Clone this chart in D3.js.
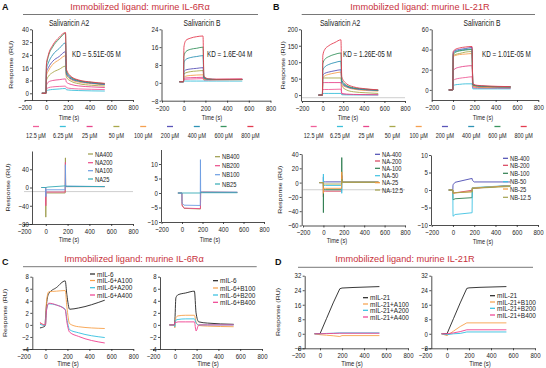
<!DOCTYPE html>
<html>
<head>
<meta charset="utf-8">
<script src="https://cdn.jsdelivr.net/npm/d3@7"></script>
<style>
body { margin: 0; background: #fff; }
svg { font-family: "Liberation Sans", Arial, sans-serif; }
</style>
</head>
<body>
<div id="visualization"></div>
<script>
let w = 546;
let h = 368;

// ---------- data ----------
let xTicks = [-200, 0, 200, 400, 600, 800];
let concLabels = ["12.5 μM", "6.25 μM", "25 μM", "50 μM", "100 μM", "200 μM", "400 μM", "600 μM", "800 μM"];

// kinetics time points (s) for the top row
let timeKin = [-40, -2, 2, 20, 60, 120, 178, 186, 230, 300, 420, 540];
// rows follow concLabels order
let il6A2 = [
  [0, 0, 2.5, 3.5, 4, 4.3, 4.5, 3.5, 3, 2.7, 2.5, 2.3],
  [0, 0, 1.5, 2, 2.4, 2.7, 3, 2.2, 1.9, 1.7, 1.5, 1.4],
  [0, 0, 5, 7, 8, 8.5, 9, 7, 5.5, 4.6, 4, 3.6],
  [0, 0, 8, 10.5, 13, 15, 17, 10, 7.5, 6, 5, 4.5],
  [0, 0, 11, 14, 18, 21, 23.5, 11.5, 8.5, 7, 6, 5.2],
  [0, 0, 13, 16, 20, 23, 26, 12, 9, 7.5, 6.3, 5.5],
  [0, 0, 15, 19, 24, 28, 31.5, 13, 9.5, 7.8, 6.5, 5.7],
  [0, 0, 17, 23, 29, 34, 37.5, 14, 10, 8, 6.8, 6],
  [0, 0, 18, 24, 30, 35, 38, 15, 10.5, 8.3, 7, 6.2]
];
let il6B = [
  [0.5, 0.5, 1.5, 1.6, 1.7, 1.8, 1.9, 1.2, 1.2, 1.3, 1.4, 1.5],
  [0.5, 0.5, 0.8, 0.8, 0.8, 0.8, 0.8, 0.8, 0.8, 0.8, 0.8, 0.8],
  [0.5, 0.5, 2, 2.2, 2.3, 2.4, 2.5, 1.5, 1.5, 1.6, 1.7, 1.8],
  [0.5, 0.5, 4, 4.5, 5, 5.3, 5.5, 1.8, 1.5, 1.5, 1.5, 1.5],
  [0.5, 0.5, 2.5, 3, 3.3, 3.5, 3.6, 1.5, 1.4, 1.4, 1.4, 1.4],
  [0.5, 0.5, 5, 5.8, 6.2, 6.5, 6.8, 2, 1.6, 1.5, 1.5, 1.5],
  [0.5, 0.5, 9, 10.5, 11.3, 11.8, 12.2, 2.2, 1.6, 1.5, 1.5, 1.5],
  [0.5, 0.5, 12, 14, 15, 15.5, 16, 2.5, 1.7, 1.5, 1.5, 1.5],
  [0.5, 0.5, 16, 19, 20, 20.7, 21, 3, 1.8, 1.6, 1.6, 1.6]
];
let il21A2 = [
  [0, 0, 17, 17, 17, 17.5, 18, 3, 2, 1.5, 1, 1],
  [0, 0, 5, 5, 5, 5, 5, 1, 0.5, 0.5, 0.3, 0.3],
  [0, 0, 38, 38, 38, 38, 38, 5, 3, 2, 1.5, 1],
  [0, 0, 52, 52, 52, 52, 52, 28, 16, 10, 7, 5],
  [0, 0, 52, 58, 63, 67, 70, 32, 24, 18, 14, 12],
  [0, 0, 60, 66, 70, 74, 77, 36, 26, 20, 16, 14],
  [0, 0, 75, 85, 93, 99, 103, 40, 28, 21, 17, 14],
  [0, 0, 95, 108, 117, 124, 128, 45, 30, 22, 18, 15],
  [0, 0, 120, 138, 150, 160, 168, 55, 35, 25, 19, 16]
];
let il21B = [
  [0, 0, 9, 10.5, 11.5, 12.3, 13, 2, 1.5, 1.5, 1.5, 1.5],
  [0, 0, 4, 5, 5.5, 6, 6, 1, 1, 1, 1, 1],
  [0, 0, 19, 21, 22.5, 23.5, 24, 3, 2.5, 2.3, 2.2, 2],
  [0, 0, 34, 35, 36, 37.5, 38, 4, 3, 2.8, 2.7, 2.5],
  [0, 0, 33, 34, 35, 35.5, 36, 4, 3, 2.8, 2.7, 2.5],
  [0, 0, 37, 39, 40, 41, 42, 5, 4, 3.5, 3, 3],
  [0, 0, 36, 38, 39, 40, 40.5, 5, 4, 3.5, 3.2, 3],
  [0, 0, 35, 37, 38.5, 39.5, 40, 5, 4, 3.5, 3.2, 3],
  [0, 0, 38, 40, 41.5, 42.5, 43, 6, 4.5, 4, 3.5, 3.2]
];

// middle row: injection spikes at 0 s and 180 s
let timeSpike = [-40, -1, 0, 1, 20, 178, 180, 182, 200, 540];
let naNames = ["NA400", "NA200", "NA100", "NA25"];
let naVals = [
  [0, 0, -65, -12, -12, -12, 65, 2, 2, 2],
  [0, 0, -40, -10, -10, -10, 55, 2, 2, 2],
  [0, 0, -20, -5, -5, -5, 50, 3, 3, 2],
  [0, 0, 0, 0, 1, 3.5, 3, 3, 2.5, 2]
];
let nbNames = ["NB400", "NB200", "NB100", "NB25"];
let nbVals = [
  [0, 0, -3, -4, -5.3, -5.5, -5.5, 0.3, 0.3, 0.2],
  [0, 0, -3, -4.5, -5.2, -5.4, -5.4, 0.3, 0.3, 0.2],
  [0, 0, -3, -3.5, -4.2, -4.3, 11.5, 0.3, 0.3, 0.3],
  [0, 0, 0, 0, 0, 0, 0, 0.1, 0.1, 0.1]
];
let na21Names = ["NA-400", "NA-200", "NA-100", "NA-50", "NA-25", "NA-12.5"];
let na21Vals = [
  [0, 0, 8, 1, 1, 1, 5, 0.5, 0.5, 0.5],
  [0, 0, -20, -12, -12, -12, 10, 0.5, 0.5, 0.5],
  [0, 0, -42, -10, -10, -10, 35, 0.5, 0.5, 0.5],
  [0, 0, 12, -4, -4, -4, -15, 0.5, 0.5, 0.5],
  [0, 0, -15, -8, -8, -8, 15, 0.5, 0.5, 0.5],
  [0, 0, -5, -2, -2, -2, 5, 0.5, 0.5, 0.5]
];
let nb21Names = ["NB-400", "NB-200", "NB-100", "NB-50", "NB-25", "NB-12.5"];
let nb21Vals = [
  [0, 0, 1.2, 1.5, 2.2, 3.3, 3.3, 2.8, 2.3, 2.3],
  [0, 0, -1, -1, -0.8, -0.1, -0.1, 0.5, 0.5, 1.3],
  [0, 0, -2.5, -2.8, -2.5, -2.2, -2.2, 0.5, 0.6, 1.2],
  [0, 0, -6, -7.5, -7, -6.5, -6.5, 0.7, 0.7, 1.3],
  [0, 0, -0.8, -1, -0.8, -0.5, -0.5, 0.6, 0.6, 1.2],
  [0, 0, -0.5, -0.8, -0.8, -0.5, -0.5, 0.5, 0.5, 1.0]
];

// bottom row: competition
let timeComp = [-50, -5, 0, 10, 30, 100, 180, 195, 220, 300, 540];
let il6CompA = ["mIL-6", "mIL-6+A100", "mIL-6+A200", "mIL-6+A400"];
let il6CompAVals = [
  [-0.5, -0.2, 1, 3.5, 5.2, 6.2, 7.3, 5, 2.6, 2.8, 4.1],
  [0.3, 0, 0, 4, 5.5, 5.6, 5.7, 3, 0.2, -0.3, -0.6],
  [0.1, -0.1, 0, 2.5, 3.5, 3.3, 2.6, 1, -0.8, -1.3, -2.1],
  [0.4, 0, 0, 2.5, 3.6, 3.3, 2.5, 0.5, -1.2, -1.9, -3]
];
let il6CompB = ["mIL-6", "mIL-6+B100", "mIL-6+B200", "mIL-6+B400"];
let il6CompBVals = [
  [0, 0, 0.5, 4.5, 5, 5.3, 5.6, 2, 0.5, 0.3, 0.1],
  [0, 0, -0.5, 1.2, 1.5, 1.6, 1.6, 0.5, -0.1, -0.2, -0.3],
  [0, 0, -0.3, 0.8, 0.9, 1, 1, 0.3, 0, 0, 0],
  [0, 0, 0.5, 0.4, 0.5, 0.5, 0.5, -1, 0, 0, 0]
];
let timeComp21 = [-50, 0, 60, 120, 180, 200, 300, 540];
let il21CompA = ["mIL-21", "mIL-21+A100", "mIL-21+A200", "mIL-21+A400"];
let il21CompAVals = [
  [0, 0, 8.5, 17, 24.8, 25.2, 25.5, 26],
  [0, -0.5, -0.8, -1.1, -1.5, -1, -1, -1],
  [0, 0, 0.2, 0.3, 0.5, 0.5, 0.5, 0.5],
  [0, 0, 0.1, 0.2, 0.3, 0.3, 0.3, 0.3]
];
let il21CompB = ["mIL-21", "mIL-21+B100", "mIL-21+B200", "mIL-21+B400"];
let il21CompBVals = [
  [0, 0, 8.5, 17, 25, 25.3, 25.6, 26],
  [0, -1, 1.5, 4, 6, 6, 6, 6],
  [0, -0.5, 0, 0.2, 1, 1, 1, 1],
  [0, 0, 0.5, 1.2, 2.2, 2.2, 2.2, 2.2]
];

// ---------- colours ----------
let concColors = ["#f0609a", "#3cc0da", "#e8478c", "#a9a84c", "#f5a050", "#5b55b8", "#2f93b5", "#3a9460", "#e43c50"];
let naColors = ["#9c9b4a", "#ea4c88", "#6d9de2", "#35aab5"];
let na21Colors = ["#4b4bb2", "#d8405a", "#2e7d4f", "#40c2e2", "#f59a40", "#a3a24e"];
let compColors = ["#222222", "#f7a04a", "#33bfe0", "#ef3f8f"];
let red = "#c8323c";

let viz = d3.select("#visualization")
  .append("svg")
  .attr("width", w)
  .attr("height", h)
  .style("background-color", "#fff");

// squeezed text, like the pasted-in plot images
function addText(x, y, s, size, opt) {
  opt = opt || {};
  let sx = opt.sx || 1;
  let tr = `translate(${x},${y})`;
  tr += opt.rot ? ` rotate(${opt.rot}) scale(1,${sx})` : ` scale(${sx},1)`;
  return viz.append("text")
    .attr("transform", tr)
    .attr("font-size", size)
    .attr("text-anchor", opt.anchor || "start")
    .attr("font-weight", opt.bold ? "bold" : "normal")
    .attr("fill", opt.color || "#222")
    .text(s);
}

function drawPlot(p) {
  let sx = p.sx || 0.8;
  let xScale = d3.scaleLinear().domain([-200, 800]).range([p.x0, p.x1]);
  let yScale = d3.scaleLinear().domain(p.yDom).range([p.yBot, p.yTop]);
  let g = viz.append("g");

  if (p.ref != null) {
    g.append("line")
      .attr("x1", xScale(-200)).attr("x2", xScale(800))
      .attr("y1", yScale(p.ref)).attr("y2", yScale(p.ref))
      .attr("stroke", "#cfcfcf").attr("stroke-width", 1);
  }

  let line = d3.line()
    .x(d => xScale(d[0]))
    .y(d => yScale(d[1]))
    .curve(p.curve || d3.curveLinear);

  p.vals.forEach(function(v, i) {
    g.append("path")
      .datum(p.times.map((t, j) => [t, v[j]]))
      .attr("d", line)
      .attr("fill", "none")
      .attr("stroke", p.colors[i])
      .attr("stroke-width", 0.9);
  });

  let xAxis = d3.axisBottom(xScale).tickValues(xTicks).tickSize(2).tickSizeOuter(0).tickPadding(p.xPad || 2.5);
  let xg = g.append("g").attr("transform", `translate(0,${p.yBot})`).call(xAxis);
  let yAxis = d3.axisLeft(yScale).tickValues(p.yTicks).tickSize(2).tickSizeOuter(0).tickPadding(2);
  let yg = g.append("g").attr("transform", `translate(${p.yAxisX},0)`).call(yAxis);

  [xg, yg].forEach(function(a) {
    a.select(".domain").attr("stroke", "#222").attr("stroke-width", 0.8);
    a.selectAll(".tick line").attr("stroke", "#222").attr("stroke-width", 0.8);
    a.selectAll(".tick text").attr("font-size", p.tickFont || 7.6).attr("fill", "#222")
      .attr("font-family", "Liberation Sans, Arial, sans-serif")
      .attr("transform", `scale(${sx},1)`);
  });

  addText(p.timeX, p.timeY, "Time (s)", 7, {anchor: "middle", sx: sx});
  if (p.respX != null) {
    addText(p.respX, (p.yBot + p.yTop) / 2, "Response (RU)", 7, {anchor: "middle", rot: -90, sx: sx});
  }
  if (p.names) {
    p.names.forEach(function(n, i) {
      let ly = p.legY[i];
      g.append("line")
        .attr("x1", p.legX).attr("x2", p.legX + 5)
        .attr("y1", ly).attr("y2", ly)
        .attr("stroke", p.colors[i]).attr("stroke-width", 1.2);
      addText(p.legX + 7, ly + 2.5, n, p.legSize || 7.2, {sx: p.legSx || sx});
    });
  }
}

// ---------- headers ----------
function header(letter, lx, ly, title, cx, ty, lineY, l0, l1) {
  addText(lx, ly, letter, 9, {bold: true, color: "#111"});
  addText(cx, ty, title, 9.2, {anchor: "middle", color: red});
  viz.append("line").attr("x1", l0).attr("x2", l1).attr("y1", lineY).attr("y2", lineY)
    .attr("stroke", "#555").attr("stroke-width", 0.8);
}
header("A", 2, 10, "Immobilized ligand: murine IL-6Rα", 140, 10, 14.5, 23, 258);
header("B", 273, 10, "Immobilized ligand: murine IL-21R", 420, 10, 14.5, 301.7, 535);
header("C", 2, 265, "Immobilized ligand: murine IL-6Rα", 134, 261.5, 266.7, 23, 256.7);
header("D", 275, 265, "Immobilized ligand: murine IL-21R", 405, 261.5, 267.3, 298, 533);

addText(69, 25.5, "Salivaricin A2", 8.6, {anchor: "middle", sx: 0.78});
addText(202, 25.5, "Salivaricin B", 8.6, {anchor: "middle", sx: 0.78});
addText(340, 25.5, "Salivaricin A2", 8.6, {anchor: "middle", sx: 0.78});
addText(482, 25.5, "Salivaricin B", 8.6, {anchor: "middle", sx: 0.78});

addText(72, 56.5, "KD = 5.51E-05 M", 9.6, {sx: 0.66});
addText(207, 56.5, "KD = 1.6E-04 M", 9.6, {sx: 0.66});
addText(343, 56.5, "KD = 1.26E-05 M", 9.6, {sx: 0.66});
addText(482, 56.5, "KD = 1.01E-05 M", 9.6, {sx: 0.66});

// ---------- top row ----------
let mono = d3.curveMonotoneX;
drawPlot({x0: 24.5, x1: 133, yAxisX: 32, yDom: [-4.2, 40], yBot: 100, yTop: 29.3, yTicks: [0, 8, 16, 24, 32, 40],
  times: timeKin, vals: il6A2, colors: concColors, curve: mono, timeX: 69, timeY: 119.5, respX: 13});
drawPlot({x0: 162, x1: 270.5, yAxisX: 161.5, yDom: [-8, 24], yBot: 100.7, yTop: 29.3, yTicks: [-8, 0, 8, 16, 24],
  times: timeKin, vals: il6B, colors: concColors, curve: mono, timeX: 212, timeY: 119.5});
drawPlot({x0: 302, x1: 405, yAxisX: 301, yDom: [-18, 200], yBot: 101, yTop: 29.3, yTicks: [0, 50, 100, 150, 200], ref: -8,
  times: timeKin, vals: il21A2, colors: concColors, curve: mono, timeX: 348, timeY: 119.5, respX: 285});
drawPlot({x0: 431.7, x1: 538.3, yAxisX: 431.7, yDom: [-10, 60], yBot: 100, yTop: 29.3, yTicks: [0, 20, 40, 60],
  times: timeKin, vals: il21B, colors: concColors, curve: mono, timeX: 483, timeY: 119.5});

// concentration legends under the top row
[[36, 26.8], [313.7, 26.25]].forEach(function(lg) {
  concLabels.forEach(function(c, i) {
    let cx = lg[0] + i * lg[1];
    viz.append("line").attr("x1", cx - 3).attr("x2", cx + 3).attr("y1", 126.5).attr("y2", 126.5)
      .attr("stroke", concColors[i]).attr("stroke-width", 1.3);
    addText(cx, 137.5, c, 7, {anchor: "middle", sx: 0.78});
  });
});

// ---------- middle row ----------
drawPlot({x0: 24, x1: 133, yAxisX: 32, yDom: [-80, 80], yBot: 224, yTop: 151, yTicks: [-80, -40, 0, 40], ref: -9,
  times: timeSpike, vals: naVals, colors: naColors, timeX: 69, timeY: 241.5, respX: 10,
  names: naNames, legX: 88, legY: [154, 162.7, 170.7, 179]});
drawPlot({x0: 161.5, x1: 264, yAxisX: 161, yDom: [-10, 15], yBot: 222, yTop: 149.5, yTicks: [-10, -5, 0, 5, 10],
  times: timeSpike, vals: nbVals, colors: naColors, timeX: 210, timeY: 241.5,
  names: nbNames, legX: 215, legY: [156.7, 165.7, 174.7, 184]});
drawPlot({x0: 303, x1: 405, yAxisX: 301.7, yDom: [-60, 40], yBot: 225.5, yTop: 154, yTicks: [-60, -40, -20, 0, 20, 40], ref: -10,
  times: timeSpike, vals: na21Vals, colors: na21Colors, timeX: 337, timeY: 243, respX: 282,
  names: na21Names, legX: 375, legY: [154.3, 161, 168.3, 175.7, 182.7, 190]});
drawPlot({x0: 431.7, x1: 538, yAxisX: 431, yDom: [-10, 10], yBot: 225, yTop: 155, yTicks: [-10, -5, 0, 5, 10],
  times: timeSpike, vals: nb21Vals, colors: na21Colors, timeX: 483, timeY: 243.5,
  names: nb21Names, legX: 503, legY: [158.3, 165.3, 173.3, 181.7, 189, 197.3]});

// ---------- bottom row ----------
drawPlot({x0: 23.5, x1: 133.3, yAxisX: 32.3, yDom: [-4, 8], yBot: 349, yTop: 276.7, yTicks: [-4, -2, 0, 2, 4, 6, 8],
  times: timeComp, vals: il6CompAVals, colors: compColors, curve: mono, timeX: 68, timeY: 366, respX: 7, sx: 0.85, xPad: 2.6, tickFont: 7.1,
  names: il6CompA, legX: 90, legY: [274, 280.5, 287.7, 295], legSx: 0.95, legSize: 6.8});
drawPlot({x0: 153, x1: 262, yAxisX: 160, yDom: [-4, 8], yBot: 349, yTop: 276.7, yTicks: [-4, -2, 0, 2, 4, 6, 8],
  times: timeComp, vals: il6CompBVals, colors: compColors, curve: mono, timeX: 208, timeY: 366, sx: 0.85, xPad: 2.6, tickFont: 7.1,
  names: il6CompB, legX: 213, legY: [280.7, 288, 295, 302.3], legSx: 0.95, legSize: 6.8});
drawPlot({x0: 298, x1: 408, yAxisX: 304.7, yDom: [-8, 32], yBot: 348.3, yTop: 275.7, yTicks: [-8, 0, 8, 16, 24, 32],
  times: timeComp21, vals: il21CompAVals, colors: compColors, timeX: 352, timeY: 366, respX: 280, sx: 0.85, xPad: 2.6, tickFont: 7.1,
  names: il21CompA, legX: 363, legY: [297.7, 304, 310.3, 317], legSx: 0.95, legSize: 6.8});
drawPlot({x0: 425, x1: 535, yAxisX: 431.3, yDom: [-8, 32], yBot: 348.3, yTop: 275.7, yTicks: [-8, 0, 8, 16, 24, 32],
  times: timeComp21, vals: il21CompBVals, colors: compColors, timeX: 480, timeY: 366, sx: 0.85, xPad: 2.6, tickFont: 7.1,
  names: il21CompB, legX: 490, legY: [295.7, 302, 308.3, 315], legSx: 0.95, legSize: 6.8});
</script>
</body>
</html>
